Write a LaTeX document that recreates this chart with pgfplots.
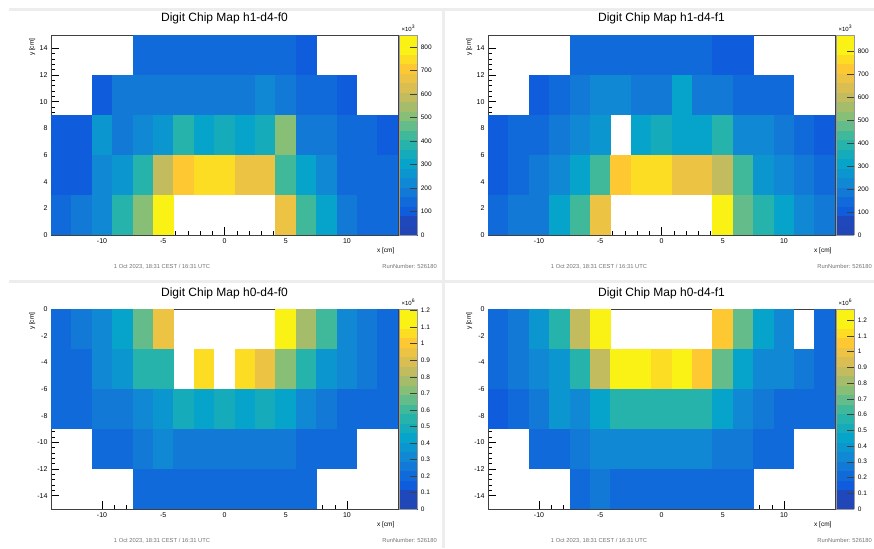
\documentclass[border=0pt]{standalone}
\usepackage{fontspec}
\setmainfont{Liberation Sans}
\usepackage{pgfplots}
\usepackage{pgfplotstable}
\pgfplotsset{compat=1.18}

% one histogram bin: 347pt/17 wide, 200pt/5 high
\pgfdeclareplotmark{chipcell}{%
  \pgfpathrectangle{\pgfqpoint{-10.35pt}{-20.15pt}}{\pgfqpoint{20.7pt}{40.3pt}}%
  \pgfusepathqfill}

\pgfplotsset{
  % ROOT kBird palette in 20 contour bands (last colour repeated for the top edge)
  colormap={bird}{
    rgb=(0.125,0.275,0.720) rgb=(0.1188,0.2825,0.7328)
    rgb=(0.0592,0.3599,0.8684) rgb=(0.0667,0.4176,0.8564)
    rgb=(0.0742,0.4753,0.8445) rgb=(0.0670,0.5317,0.8291)
    rgb=(0.0451,0.5868,0.8102) rgb=(0.0232,0.6419,0.7914)
    rgb=(0.0860,0.6723,0.7318) rgb=(0.1488,0.7026,0.6723)
    rgb=(0.2502,0.7241,0.6072) rgb=(0.3901,0.7366,0.5367)
    rgb=(0.5301,0.7492,0.4662) rgb=(0.6455,0.7426,0.4197)
    rgb=(0.7609,0.7361,0.3732) rgb=(0.8540,0.7435,0.3193)
    rgb=(0.9248,0.7648,0.2580) rgb=(0.9956,0.7862,0.1968)
    rgb=(0.9879,0.8650,0.1396) rgb=(0.9802,0.9438,0.0825)
    rgb=(0.9802,0.9438,0.0825)},
  chipmap/.style={
    scale only axis, width=347pt, height=200pt,
    anchor=south west,
    xmin=-14.1667, xmax=14.1667,
    xtick={-10,-5,0,5,10}, minor x tick num=4,
    minor y tick num=4,
    tick align=inside, tick pos=left,
    major tick length=8pt, minor tick length=4pt,
    axis on top,
    axis line style={line width=0.5pt, black!75},
    tick style={line width=0.4pt, black},
    tick label style={font=\fontsize{7}{8}\selectfont},
    /pgf/number format/assume math mode=true,
    title style={font=\fontsize{12}{14}\selectfont, at={(0.5,1)}, anchor=base, yshift=7pt},
    xlabel={x [cm]}, ylabel={y [cm]},
    xlabel style={font=\fontsize{6.5}{7}\selectfont, at={(1,0)}, anchor=north east, yshift=-9pt},
    ylabel style={font=\fontsize{6.5}{7}\selectfont, at={(-0.035,1)}, anchor=south east},
    colormap name=bird,
    colormap access=piecewise constant,
    colorbar,
    colorbar style={
      at={(parent axis.north east)}, anchor=north west, xshift=-7.2pt,
      width=18pt, axis on top,
      ytick pos=right, yticklabel pos=right,
      tick align=inside, major tick length=7pt,
      tick style={black!75, line width=0.5pt},
      yticklabel style={font=\fontsize{6.5}{7}\selectfont},
      /pgf/number format/assume math mode=true,
      axis line style={black!40},
      title style={font=\fontsize{6}{7}\selectfont, at={(0.5,1)}, anchor=south, yshift=-6pt},
    },
    point meta min=0,
  },
  chipcells/.style={scatter, only marks, mark=chipcell, point meta=\thisrow{c},
    scatter/use mapped color={draw=none, fill=mapped color}},
}

% h1-d4-f0, bin content in 10^3
\pgfplotstableread{
x y c
-13.333 1.5 128
-11.667 1.5 170
-10 1.5 238
-8.333 1.5 382
-6.667 1.5 510
-5 1.5 850
5 1.5 680
6.667 1.5 408
8.333 1.5 298
10 1.5 187
11.667 1.5 153
13.333 1.5 136
-13.333 4.5 119
-11.667 4.5 119
-10 4.5 212
-8.333 4.5 255
-6.667 4.5 400
-5 4.5 578
-3.333 4.5 722
-1.667 4.5 765
0 4.5 765
1.667 4.5 680
3.333 4.5 680
5 4.5 425
6.667 4.5 298
8.333 4.5 212
10 4.5 153
11.667 4.5 136
13.333 4.5 136
-13.333 7.5 85
-11.667 7.5 119
-10 7.5 280
-8.333 7.5 170
-6.667 7.5 230
-5 7.5 280
-3.333 7.5 365
-1.667 7.5 306
0 7.5 357
1.667 7.5 306
3.333 7.5 357
5 7.5 510
6.667 7.5 187
8.333 7.5 187
10 7.5 153
11.667 7.5 136
13.333 7.5 102
-10 10.5 110
-8.333 10.5 170
-6.667 10.5 170
-5 10.5 170
-3.333 10.5 170
-1.667 10.5 170
0 10.5 170
1.667 10.5 170
3.333 10.5 212
5 10.5 170
6.667 10.5 145
8.333 10.5 145
10 10.5 110
-6.667 13.5 136
-5 13.5 136
-3.333 13.5 136
-1.667 13.5 136
0 13.5 136
1.667 13.5 136
3.333 13.5 136
5 13.5 136
6.667 13.5 102
}\mapA

% h1-d4-f1, bin content in 10^3
\pgfplotstableread{
x y c
-13.333 1.5 148
-11.667 1.5 174
-10 1.5 191
-8.333 1.5 305
-6.667 1.5 452
-5 1.5 696
5 1.5 870
6.667 1.5 496
8.333 1.5 392
10 1.5 322
11.667 1.5 218
13.333 1.5 174
-13.333 4.5 104
-11.667 4.5 130
-10 4.5 174
-8.333 4.5 218
-6.667 4.5 305
-5 4.5 452
-3.333 4.5 740
-1.667 4.5 783
0 4.5 783
1.667 4.5 696
3.333 4.5 696
5 4.5 609
6.667 4.5 418
8.333 4.5 287
10 4.5 244
11.667 4.5 174
13.333 4.5 139
-13.333 7.5 87
-11.667 7.5 130
-10 7.5 157
-8.333 7.5 191
-6.667 7.5 235
-5 7.5 287
-1.667 7.5 313
0 7.5 365
1.667 7.5 322
3.333 7.5 305
5 7.5 374
6.667 7.5 218
8.333 7.5 235
10 7.5 174
11.667 7.5 139
13.333 7.5 122
-10 10.5 113
-8.333 10.5 148
-6.667 10.5 191
-5 10.5 235
-3.333 10.5 218
-1.667 10.5 191
0 10.5 191
1.667 10.5 305
3.333 10.5 174
5 10.5 174
6.667 10.5 148
8.333 10.5 148
10 10.5 139
-6.667 13.5 148
-5 13.5 148
-3.333 13.5 148
-1.667 13.5 148
0 13.5 148
1.667 13.5 148
3.333 13.5 148
5 13.5 104
6.667 13.5 104
}\mapB

% h0-d4-f0, bin content in 10^6
\pgfplotstableread{
x y c
-13.333 -1.5 0.18
-11.667 -1.5 0.27
-10 -1.5 0.33
-8.333 -1.5 0.45
-6.667 -1.5 0.67
-5 -1.5 0.97
5 -1.5 1.21
6.667 -1.5 0.79
8.333 -1.5 0.58
10 -1.5 0.33
11.667 -1.5 0.24
13.333 -1.5 0.18
-13.333 -4.5 0.18
-11.667 -4.5 0.18
-10 -4.5 0.33
-8.333 -4.5 0.40
-6.667 -4.5 0.54
-5 -4.5 0.57
-1.667 -4.5 1.08
1.667 -4.5 1.08
3.333 -4.5 0.97
5 -4.5 0.73
6.667 -4.5 0.54
8.333 -4.5 0.40
10 -4.5 0.30
11.667 -4.5 0.24
13.333 -4.5 0.18
-13.333 -7.5 0.18
-11.667 -7.5 0.18
-10 -7.5 0.24
-8.333 -7.5 0.27
-6.667 -7.5 0.33
-5 -7.5 0.36
-3.333 -7.5 0.51
-1.667 -7.5 0.46
0 -7.5 0.51
1.667 -7.5 0.45
3.333 -7.5 0.51
5 -7.5 0.42
6.667 -7.5 0.33
8.333 -7.5 0.27
10 -7.5 0.21
11.667 -7.5 0.19
13.333 -7.5 0.18
-10 -10.5 0.18
-8.333 -10.5 0.18
-6.667 -10.5 0.24
-5 -10.5 0.33
-3.333 -10.5 0.27
-1.667 -10.5 0.27
0 -10.5 0.27
1.667 -10.5 0.27
3.333 -10.5 0.27
5 -10.5 0.27
6.667 -10.5 0.21
8.333 -10.5 0.21
10 -10.5 0.18
-6.667 -13.5 0.21
-5 -13.5 0.21
-3.333 -13.5 0.21
-1.667 -13.5 0.21
0 -13.5 0.21
1.667 -13.5 0.21
3.333 -13.5 0.21
5 -13.5 0.21
6.667 -13.5 0.21
}\mapC

% h0-d4-f1, bin content in 10^6
\pgfplotstableread{
x y c
-13.333 -1.5 0.19
-11.667 -1.5 0.25
-10 -1.5 0.38
-8.333 -1.5 0.57
-6.667 -1.5 0.85
-5 -1.5 1.27
5 -1.5 1.08
6.667 -1.5 0.70
8.333 -1.5 0.47
10 -1.5 0.34
13.333 -1.5 0.22
-13.333 -4.5 0.19
-11.667 -4.5 0.25
-10 -4.5 0.32
-8.333 -4.5 0.38
-6.667 -4.5 0.57
-5 -4.5 0.85
-3.333 -4.5 1.20
-1.667 -4.5 1.27
0 -4.5 1.12
1.667 -4.5 1.27
3.333 -4.5 1.08
5 -4.5 0.70
6.667 -4.5 0.47
8.333 -4.5 0.34
10 -4.5 0.32
11.667 -4.5 0.25
13.333 -4.5 0.20
-13.333 -7.5 0.17
-11.667 -7.5 0.19
-10 -7.5 0.25
-8.333 -7.5 0.38
-6.667 -7.5 0.32
-5 -7.5 0.46
-3.333 -7.5 0.55
-1.667 -7.5 0.55
0 -7.5 0.55
1.667 -7.5 0.55
3.333 -7.5 0.55
5 -7.5 0.46
6.667 -7.5 0.34
8.333 -7.5 0.28
10 -7.5 0.22
11.667 -7.5 0.20
13.333 -7.5 0.20
-10 -10.5 0.19
-8.333 -10.5 0.19
-6.667 -10.5 0.28
-5 -10.5 0.34
-3.333 -10.5 0.34
-1.667 -10.5 0.34
0 -10.5 0.34
1.667 -10.5 0.34
3.333 -10.5 0.34
5 -10.5 0.28
6.667 -10.5 0.25
8.333 -10.5 0.19
10 -10.5 0.19
-6.667 -13.5 0.22
-5 -13.5 0.28
-3.333 -13.5 0.22
-1.667 -13.5 0.22
0 -13.5 0.22
1.667 -13.5 0.22
3.333 -13.5 0.22
5 -13.5 0.22
6.667 -13.5 0.22
}\mapD

\begin{document}
\begin{tikzpicture}
\path[use as bounding box] (0pt,0pt) rectangle (874pt,-548pt);
% pad frames
\fill[black!7] (9pt,-8pt) rectangle (874pt,-11pt);
\fill[black!7] (442pt,-8pt) rectangle (445pt,-548pt);
\fill[black!7] (9pt,-280pt) rectangle (874pt,-283pt);

\begin{axis}[chipmap, at={(51pt,-235pt)},
    title={Digit Chip Map h1-d4-f0},
    ymin=0, ymax=15, ytick={0,2,...,14},
    point meta max=850,
    colorbar style={ytick={0,100,...,800}, title={×10\textsuperscript{3}}}]
  \addplot[chipcells] table[x=x, y=y] {\mapA};
\end{axis}

\begin{axis}[chipmap, at={(488pt,-235pt)},
    title={Digit Chip Map h1-d4-f1},
    ymin=0, ymax=15, ytick={0,2,...,14},
    point meta max=870,
    colorbar style={ytick={0,100,...,800}, title={×10\textsuperscript{3}}}]
  \addplot[chipcells] table[x=x, y=y] {\mapB};
\end{axis}

\begin{axis}[chipmap, at={(51pt,-509pt)},
    title={Digit Chip Map h0-d4-f0},
    ymin=-15, ymax=0, ytick={-14,-12,...,0},
    point meta max=1.21,
    colorbar style={ytick={0,0.1,0.2,0.3,0.4,0.5,0.6,0.7,0.8,0.9,1,1.1,1.2}, title={×10\textsuperscript{6}}}]
  \addplot[chipcells] table[x=x, y=y] {\mapC};
\end{axis}

\begin{axis}[chipmap, at={(488pt,-509pt)},
    title={Digit Chip Map h0-d4-f1},
    ymin=-15, ymax=0, ytick={-14,-12,...,0},
    point meta max=1.27,
    colorbar style={ytick={0,0.1,0.2,0.3,0.4,0.5,0.6,0.7,0.8,0.9,1,1.1,1.2}, title={×10\textsuperscript{6}}}]
  \addplot[chipcells] table[x=x, y=y] {\mapD};
\end{axis}

% footers
\begin{scope}[every node/.style={font=\fontsize{5.8}{6}\selectfont, text=black!55, inner sep=0pt}]
  \node[anchor=base] at (162pt,-268pt) {1 Oct 2023, 18:31 CEST / 16:31 UTC};
  \node[anchor=base east] at (437pt,-268pt) {RunNumber: 526180};
  \node[anchor=base] at (599pt,-268pt) {1 Oct 2023, 18:31 CEST / 16:31 UTC};
  \node[anchor=base east] at (872pt,-268pt) {RunNumber: 526180};
  \node[anchor=base] at (162pt,-542pt) {1 Oct 2023, 18:31 CEST / 16:31 UTC};
  \node[anchor=base east] at (437pt,-542pt) {RunNumber: 526180};
  \node[anchor=base] at (599pt,-542pt) {1 Oct 2023, 18:31 CEST / 16:31 UTC};
  \node[anchor=base east] at (872pt,-542pt) {RunNumber: 526180};
\end{scope}
\end{tikzpicture}
\end{document}
